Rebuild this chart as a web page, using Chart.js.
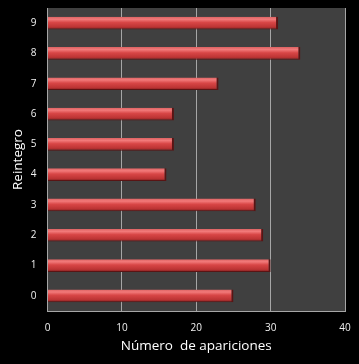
<!DOCTYPE html>
<html><head><meta charset="utf-8">
<script src="https://cdn.jsdelivr.net/npm/chart.js@4"></script>
<style>html,body{margin:0;padding:0;background:#000;}#w{width:359px;height:364px;}</style>
</head><body><div id="w"><canvas id="c" width="359" height="364"></canvas></div>
<script>
const categories = ['0','1','2','3','4','5','6','7','8','9'];
const apariciones = [25, 30, 29, 28, 16, 17, 17, 23, 34, 31];
const xTicks = [0, 10, 20, 30, 40];
const xTitle = 'Número  de apariciones';
const yTitle = 'Reintegro';

const plotBg = {
  id: 'plotBg',
  beforeDraw(chart) {
    const {ctx, chartArea: a} = chart;
    ctx.save();
    ctx.fillStyle = '#404040';
    ctx.fillRect(a.left, a.top, a.right - a.left, a.bottom - a.top);
    ctx.restore();
  }
};

function barFill(c) {
  const chart = c.chart;
  const y = chart.scales && chart.scales.y;
  if (!y || c.dataIndex === undefined || !chart.chartArea) return '#c84040';
  const center = y.getPixelForValue(c.dataIndex);
  const half = (y.height / categories.length) * 0.42 / 2;
  const g = chart.ctx.createLinearGradient(0, center - half, 0, center + half);
  g.addColorStop(0, '#dc6262');
  g.addColorStop(0.2, '#f27a7a');
  g.addColorStop(0.45, '#d84646');
  g.addColorStop(0.8, '#bc3434');
  g.addColorStop(1, '#7a1e1e');
  return g;
}

new Chart(document.getElementById('c'), {
  type: 'bar',
  plugins: [plotBg],
  data: {
    labels: categories,
    datasets: [{
      data: apariciones,
      backgroundColor: barFill,
      borderColor: '#5a1414',
      borderWidth: {top: 0, left: 0, right: 2, bottom: 1},
      borderSkipped: false,
      barPercentage: 0.42,
      categoryPercentage: 1
    }]
  },
  options: {
    indexAxis: 'y',
    responsive: false,
    animation: false,
    devicePixelRatio: 1,
    layout: {padding: {top: 8, right: 14, bottom: 10, left: 10}},
    plugins: {legend: {display: false}, tooltip: {enabled: false}},
    scales: {
      x: {
        min: 0, max: 40,
        afterBuildTicks: s => { s.ticks = xTicks.map(v => ({value: v})); },
        afterFit: s => { s.height = 43; s.paddingLeft = 0; s.paddingRight = 0; },
        grid: {color: '#a6a6a6', lineWidth: 1, drawTicks: false, tickLength: 0},
        border: {color: '#a6a6a6', width: 1},
        ticks: {color: '#f0f0f0', padding: 11, font: {family: 'Open Sans', size: 10}},
        title: {display: true, text: xTitle, color: '#ffffff', padding: {top: 4, bottom: 0}, font: {family: 'Open Sans', size: 13.5}}
      },
      y: {
        reverse: true,
        afterFit: s => { s.width = 37.5; s.paddingTop = 0; s.paddingBottom = 0; },
        grid: {display: false, drawTicks: false},
        border: {color: '#a6a6a6', width: 1},
        ticks: {color: '#f0f0f0', padding: 11, font: {family: 'Open Sans', size: 10}},
        title: {display: true, text: yTitle, color: '#ffffff', padding: {top: 0, bottom: 4.6}, font: {family: 'Open Sans', size: 13.5}}
      }
    }
  }
});
</script></body></html>
